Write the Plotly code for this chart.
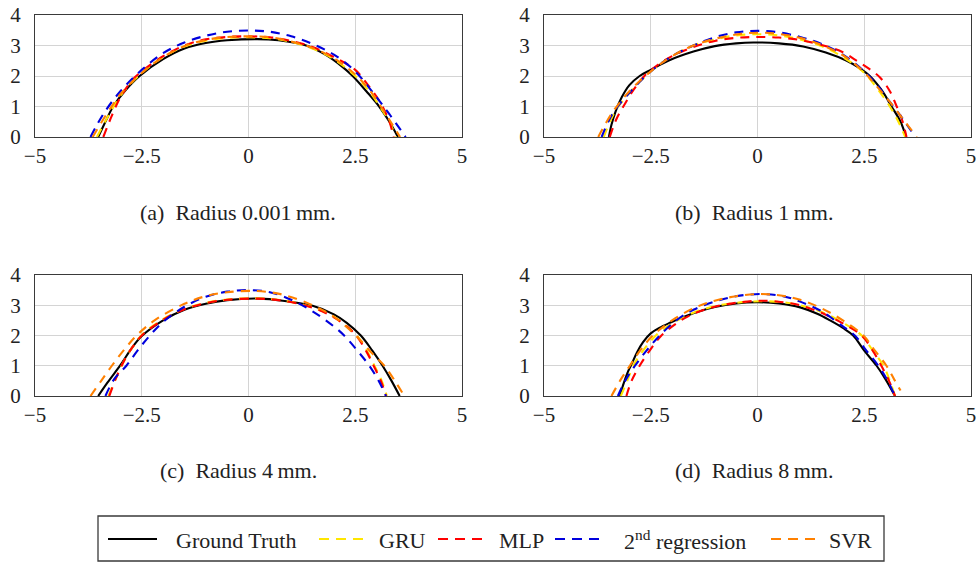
import plotly.graph_objects as go

# ---------------- data ----------------
# Panel (a) Radius 0.001 mm
a_gt_x = [-3.52, -3.3, -3.17, -2.9, -2.55, -2.0, -1.5, -1.0, -0.5, 0.2, 0.7, 1.35, 1.8, 2.2, 2.44, 2.76, 3.06, 3.3, 3.5]
a_gt_y = [0, 0.65, 1.0, 1.5, 2.0, 2.55, 2.9, 3.08, 3.17, 3.21, 3.17, 3.0, 2.7, 2.3, 2.0, 1.5, 1.0, 0.5, 0]
a_gru_x = [-3.55, -3.3, -3.0, -2.5, -2.0, -1.5, -1.0, -0.5, 0, 0.5, 1.0, 1.5, 2.0, 2.5, 2.8, 3.1, 3.3, 3.45]
a_gru_y = [0, 0.65, 1.35, 2.1, 2.62, 2.97, 3.16, 3.25, 3.27, 3.24, 3.12, 2.9, 2.55, 2.0, 1.55, 0.95, 0.5, 0]
a_mlp_x = [-3.40, -3.2, -3.0, -2.7, -2.5, -2.0, -1.5, -1.0, -0.5, 0, 0.5, 1.0, 1.5, 2.0, 2.5, 2.8, 3.1, 3.3, 3.4]
a_mlp_y = [0, 0.7, 1.3, 1.9, 2.15, 2.65, 3.0, 3.2, 3.28, 3.3, 3.27, 3.15, 2.95, 2.62, 2.2, 1.7, 1.1, 0.5, 0]
a_reg_x = [-3.7, -3.4, -3.0, -2.5, -2.0, -1.5, -1.0, -0.5, 0, 0.5, 1.0, 1.5, 2.0, 2.5, 3.0, 3.3, 3.68]
a_reg_y = [0, 0.75, 1.5, 2.2, 2.75, 3.1, 3.32, 3.45, 3.49, 3.45, 3.3, 3.05, 2.7, 2.15, 1.3, 0.75, 0]
a_svr_x = [-3.65, -3.3, -3.0, -2.5, -2.0, -1.5, -1.0, -0.5, 0, 0.5, 1.0, 1.5, 2.0, 2.5, 2.8, 3.1, 3.35, 3.55]
a_svr_y = [0, 0.8, 1.4, 2.1, 2.62, 2.98, 3.18, 3.28, 3.3, 3.27, 3.13, 2.92, 2.58, 2.05, 1.6, 1.0, 0.45, 0]

# Panel (b) Radius 1 mm
b_gt_x = [-3.48, -3.42, -3.32, -3.18, -3.0, -2.76, -2.5, -2.09, -1.5, -1.0, -0.5, -0.1, 0.5, 1.07, 1.6, 2.09, 2.4, 2.63, 2.9, 3.14, 3.35, 3.48]
b_gt_y = [0, 0.4, 0.85, 1.3, 1.7, 2.0, 2.2, 2.5, 2.8, 2.98, 3.07, 3.1, 3.07, 2.97, 2.77, 2.5, 2.25, 2.0, 1.55, 1.0, 0.5, 0]
b_gru_x = [-3.6, -3.35, -3.0, -2.5, -2.0, -1.5, -1.0, -0.5, 0, 0.5, 1.0, 1.5, 2.0, 2.5, 2.8, 3.1, 3.3, 3.46]
b_gru_y = [0, 0.8, 1.45, 2.15, 2.65, 3.0, 3.2, 3.33, 3.37, 3.33, 3.2, 2.98, 2.62, 2.1, 1.6, 1.0, 0.5, 0]
b_mlp_x = [-3.46, -3.3, -3.1, -2.9, -2.65, -2.3, -2.0, -1.5, -1.0, -0.5, 0, 0.5, 1.0, 1.5, 2.0, 2.3, 2.6, 2.87, 3.1, 3.26, 3.4, 3.49]
b_mlp_y = [0, 0.6, 1.1, 1.55, 2.0, 2.4, 2.65, 2.95, 3.15, 3.25, 3.28, 3.26, 3.18, 3.02, 2.78, 2.52, 2.25, 1.95, 1.5, 1.0, 0.5, 0]
b_reg_x = [-3.65, -3.4, -3.0, -2.5, -2.0, -1.5, -1.0, -0.5, 0, 0.5, 1.0, 1.5, 2.0, 2.5, 2.8, 3.1, 3.4, 3.7]
b_reg_y = [0, 0.75, 1.45, 2.15, 2.65, 3.0, 3.27, 3.43, 3.48, 3.43, 3.28, 3.05, 2.7, 2.15, 1.7, 1.15, 0.6, 0]
b_svr_x = [-3.73, -3.4, -3.0, -2.5, -2.0, -1.5, -1.0, -0.5, 0, 0.5, 1.0, 1.5, 2.0, 2.5, 2.8, 3.1, 3.4, 3.73]
b_svr_y = [0, 0.8, 1.5, 2.15, 2.65, 3.0, 3.22, 3.36, 3.42, 3.38, 3.25, 3.02, 2.68, 2.12, 1.65, 1.15, 0.6, 0]

# Panel (c) Radius 4 mm
c_gt_x = [-3.52, -3.3, -3.0, -2.75, -2.5, -2.0, -1.5, -1.0, -0.5, 0.25, 0.8, 1.5, 2.0, 2.3, 2.63, 2.9, 3.14, 3.35, 3.54]
c_gt_y = [0, 0.45, 1.02, 1.55, 1.98, 2.5, 2.85, 3.05, 3.17, 3.22, 3.15, 2.98, 2.7, 2.42, 2.0, 1.5, 1.0, 0.5, 0]
c_gru_x = [-3.28, -3.1, -2.9, -2.7, -2.5, -2.0, -1.5, -1.0, -0.5, 0.2, 0.8, 1.5, 2.0, 2.3, 2.54, 2.77, 2.95, 3.12, 3.24]
c_gru_y = [0, 0.6, 1.2, 1.65, 2.02, 2.54, 2.88, 3.08, 3.19, 3.23, 3.16, 2.93, 2.62, 2.3, 2.0, 1.5, 1.0, 0.5, 0]
c_mlp_x = [-3.26, -3.1, -2.9, -2.7, -2.5, -2.0, -1.5, -1.0, -0.5, 0.2, 0.8, 1.5, 2.0, 2.3, 2.52, 2.75, 2.93, 3.1, 3.22]
c_mlp_y = [0, 0.6, 1.2, 1.65, 2.0, 2.52, 2.87, 3.07, 3.18, 3.22, 3.15, 2.92, 2.6, 2.3, 2.0, 1.5, 1.0, 0.5, 0]
c_reg_x = [-3.35, -3.15, -2.86, -2.6, -2.31, -2.0, -1.5, -1.0, -0.5, 0, 0.5, 1.0, 1.5, 2.0, 2.24, 2.55, 2.83, 3.05, 3.22]
c_reg_y = [0, 0.55, 1.0, 1.5, 2.0, 2.45, 2.95, 3.28, 3.45, 3.5, 3.43, 3.18, 2.8, 2.3, 2.0, 1.5, 1.0, 0.5, 0]
c_svr_x = [-3.7, -3.45, -3.2, -2.9, -2.62, -2.2, -1.5, -1.0, -0.5, 0.2, 0.8, 1.5, 2.0, 2.4, 2.65, 2.9, 3.18, 3.45, 3.65]
c_svr_y = [0, 0.5, 1.0, 1.55, 2.0, 2.5, 3.05, 3.3, 3.43, 3.47, 3.35, 3.0, 2.62, 2.15, 1.8, 1.4, 1.0, 0.45, 0]

# Panel (d) Radius 8 mm
d_gt_x = [-3.22, -3.15, -3.05, -2.95, -2.82, -2.68, -2.5, -2.3, -2.05, -1.75, -1.43, -1.0, -0.5, 0, 0.5, 1.0, 1.4, 1.7, 2.0, 2.24, 2.5, 2.79, 3.0, 3.22]
d_gt_y = [0, 0.35, 0.75, 1.05, 1.45, 1.78, 2.07, 2.25, 2.42, 2.6, 2.77, 2.94, 3.06, 3.1, 3.06, 2.93, 2.72, 2.5, 2.25, 2.0, 1.5, 1.0, 0.55, 0]
d_gru_x = [-3.2, -3.05, -2.91, -2.68, -2.38, -2.0, -1.5, -1.0, -0.5, 0.05, 0.6, 1.0, 1.5, 2.0, 2.44, 2.7, 2.95, 3.1, 3.22]
d_gru_y = [0, 0.5, 1.0, 1.5, 2.0, 2.4, 2.75, 2.97, 3.08, 3.13, 3.1, 3.0, 2.78, 2.42, 2.0, 1.5, 1.0, 0.5, 0]
d_mlp_x = [-3.07, -2.95, -2.76, -2.5, -2.25, -1.9, -1.5, -1.0, -0.5, 0.1, 0.6, 1.0, 1.5, 2.0, 2.44, 2.7, 2.9, 3.08, 3.22]
d_mlp_y = [0, 0.5, 1.0, 1.55, 2.0, 2.4, 2.72, 2.95, 3.08, 3.15, 3.1, 3.0, 2.75, 2.4, 2.0, 1.5, 1.0, 0.5, 0]
d_reg_x = [-3.27, -3.1, -2.87, -2.6, -2.29, -1.9, -1.5, -1.0, -0.5, 0.1, 0.6, 1.0, 1.5, 2.0, 2.28, 2.55, 2.83, 3.05, 3.22]
d_reg_y = [0, 0.5, 1.0, 1.5, 2.0, 2.5, 2.85, 3.12, 3.3, 3.37, 3.3, 3.12, 2.8, 2.3, 2.0, 1.5, 1.0, 0.5, 0]
d_svr_x = [-3.42, -3.2, -2.99, -2.75, -2.45, -2.0, -1.5, -1.0, -0.5, 0, 0.5, 1.0, 1.5, 2.0, 2.48, 2.75, 3.02, 3.2, 3.35]
d_svr_y = [0, 0.55, 1.0, 1.5, 2.0, 2.5, 2.9, 3.15, 3.3, 3.37, 3.33, 3.18, 2.9, 2.5, 2.0, 1.5, 1.0, 0.55, 0.18]

series_names = ["Ground Truth", "GRU", "MLP", "2<sup>nd</sup> regression", "SVR"]
series_colors = ["#000000", "#ffe600", "#ff0000", "#0000dd", "#ff8000"]
captions = ["(a)  Radius 0.001\u2009mm.", "(b)  Radius 1\u2009mm.", "(c)  Radius 4\u2009mm.", "(d)  Radius 8\u2009mm."]
x_tick_vals = [-5, -2.5, 0, 2.5, 5]
x_tick_text = ["\u22125", "\u22122.5", "0", "2.5", "5"]
y_tick_vals = [0, 1, 2, 3, 4]

panels = [
    [(a_gt_x, a_gt_y), (a_gru_x, a_gru_y), (a_mlp_x, a_mlp_y), (a_reg_x, a_reg_y), (a_svr_x, a_svr_y)],
    [(b_gt_x, b_gt_y), (b_gru_x, b_gru_y), (b_mlp_x, b_mlp_y), (b_reg_x, b_reg_y), (b_svr_x, b_svr_y)],
    [(c_gt_x, c_gt_y), (c_gru_x, c_gru_y), (c_mlp_x, c_mlp_y), (c_reg_x, c_reg_y), (c_svr_x, c_svr_y)],
    [(d_gt_x, d_gt_y), (d_gru_x, d_gru_y), (d_mlp_x, d_mlp_y), (d_reg_x, d_reg_y), (d_svr_x, d_svr_y)],
]

# ---------------- layout geometry (pixels) ----------------
W, H = 976, 562
FONT = "Liberation Serif"
TXT = "#222222"
DASH = "9px,7px"
col_x = [(35, 462), (544, 971)]
row_y = [(15, 137), (275, 396)]
cap_x = [238, 754]
cap_y = [213, 470]

def px(x):
    return x / W

def py(y):
    return 1 - y / H

fig = go.Figure()
layout_axes = {}
annotations = []
shapes = []
for i, panel in enumerate(panels):
    r, c = divmod(i, 2)
    n = "" if i == 0 else str(i + 1)
    xd = [px(col_x[c][0]), px(col_x[c][1])]
    yd = [py(row_y[r][1]), py(row_y[r][0])]
    for k, (xs, ys) in enumerate(panel):
        fig.add_trace(go.Scatter(
            x=xs, y=ys, mode="lines", name=series_names[k],
            legendgroup=series_names[k], showlegend=False,
            line=dict(color=series_colors[k], width=2.1,
                      dash="solid" if k == 0 else DASH, shape="spline", smoothing=1.0),
            xaxis="x" + n, yaxis="y" + n,
        ))
    common = dict(showline=True, mirror=True, linecolor="#3a3a3a", linewidth=1.3,
                  showgrid=True, gridcolor="#d4d4d4", gridwidth=1, zeroline=False,
                  ticks="", ticklabeloverflow="allow",
                  tickfont=dict(family=FONT, size=21, color=TXT))
    layout_axes["xaxis" + n] = dict(domain=xd, range=[-5, 5], anchor="y" + n,
                                    tickvals=x_tick_vals, ticktext=x_tick_text,
                                    ticklabelstandoff=0, **common)
    layout_axes["yaxis" + n] = dict(domain=yd, range=[0, 4], anchor="x" + n,
                                    tickvals=y_tick_vals, ticklabelstandoff=9, **common)
    annotations.append(dict(text=captions[i], xref="paper", yref="paper",
                            x=px(cap_x[c]), y=py(cap_y[r]), xanchor="center", yanchor="middle",
                            showarrow=False, font=dict(family=FONT, size=22, color=TXT)))

# ---------------- legend box (drawn like the pgfplots legend) ----------------
leg_box = (98, 516, 884, 561)
leg_y = 539
leg_line_spans = [(108, 157), (319, 363), (438, 483), (555, 600), (771, 815)]
leg_text_centers = [236, 402, 521, 685, 850]
shapes.append(dict(type="rect", xref="paper", yref="paper",
                   x0=px(leg_box[0]), x1=px(leg_box[2]), y0=py(leg_box[3]), y1=py(leg_box[1]),
                   line=dict(color="#3a3a3a", width=1.3), fillcolor="white", layer="below"))
for k in range(len(series_names)):
    x0, x1 = leg_line_spans[k]
    shapes.append(dict(type="line", xref="paper", yref="paper",
                       x0=px(x0), x1=px(x1), y0=py(leg_y), y1=py(leg_y),
                       line=dict(color=series_colors[k], width=2.1,
                                 dash="solid" if k == 0 else "10px,7px")))
    annotations.append(dict(text=series_names[k], xref="paper", yref="paper",
                            x=px(leg_text_centers[k]), y=py(leg_y + 1), xanchor="center",
                            yanchor="middle", showarrow=False,
                            font=dict(family=FONT, size=22, color=TXT)))

fig.update_layout(
    width=W, height=H, margin=dict(l=0, r=0, t=0, b=0, autoexpand=False),
    paper_bgcolor="white", plot_bgcolor="white",
    showlegend=False,
    annotations=annotations, shapes=shapes,
    **layout_axes,
)

fig.write_html("out.html")
